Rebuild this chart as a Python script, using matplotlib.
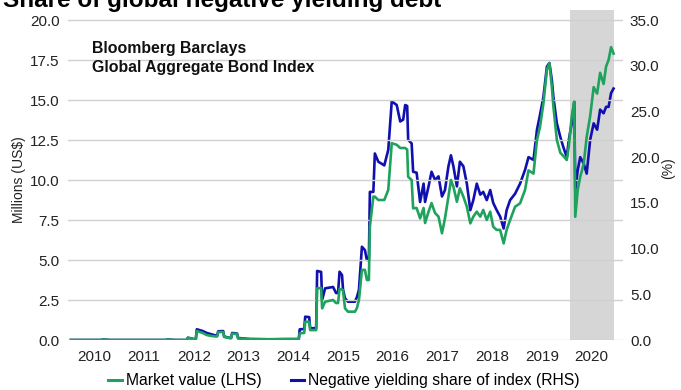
import matplotlib.pyplot as plt
from matplotlib.lines import Line2D

plt.rcParams['font.family'] = ['Liberation Sans', 'DejaVu Sans']

# decimal years of each reading
years = [
    2010.03, 2010.64, 2010.67, 2010.81, 2011.94, 2011.96, 2012.12, 2012.36, 2012.38, 2012.50,
    2012.54, 2012.56, 2012.68, 2012.76, 2012.86, 2012.94, 2012.97, 2012.99, 2013.07, 2013.09,
    2013.11, 2013.23, 2013.25, 2013.27, 2013.35, 2013.37, 2013.39, 2013.63, 2014.03, 2014.33,
    2014.61, 2014.63, 2014.70, 2014.72, 2014.74, 2014.82, 2014.84, 2014.96, 2014.98, 2015.06,
    2015.08, 2015.14, 2015.30, 2015.36, 2015.40, 2015.43, 2015.48, 2015.50, 2015.54, 2015.60,
    2015.74, 2015.78, 2015.82, 2015.88, 2015.94, 2015.98, 2016.02, 2016.04, 2016.11, 2016.14,
    2016.21, 2016.33, 2016.41, 2016.48, 2016.58, 2016.65, 2016.71, 2016.75, 2016.79, 2016.81,
    2016.88, 2016.91, 2016.98, 2017.05, 2017.12, 2017.15, 2017.22, 2017.28, 2017.35, 2017.42,
    2017.49, 2017.55, 2017.62, 2017.67, 2017.72, 2017.79, 2017.85, 2017.92, 2017.99, 2018.06,
    2018.12, 2018.19, 2018.26, 2018.32, 2018.39, 2018.46, 2018.52, 2018.59, 2018.66, 2018.73,
    2018.79, 2018.86, 2018.96, 2019.06, 2019.16, 2019.23, 2019.33, 2019.40, 2019.46, 2019.53,
    2019.60, 2019.65, 2019.70, 2019.73, 2019.80, 2019.87, 2019.93, 2020.00, 2020.04, 2020.10,
    2020.15, 2020.17, 2020.22, 2020.27, 2020.34, 2020.40, 2020.47, 2020.54, 2020.61, 2020.67,
    2020.74, 2020.79, 2020.84, 2020.89, 2020.94,
]

# market value of negative yielding debt, US$ trillions (left axis)
market_value = [
    0.0, 0.0, 0.03, 0.0, 0.0, 0.03, 0.0, 0.0, 0.14, 0.05,
    0.05, 0.56, 0.44, 0.31, 0.25, 0.22, 0.22, 0.5, 0.5, 0.5,
    0.19, 0.12, 0.12, 0.4, 0.37, 0.37, 0.09, 0.06, 0.04, 0.05,
    0.05, 0.42, 0.44, 0.44, 1.14, 1.14, 0.62, 0.62, 3.23, 3.25,
    1.98, 2.39, 2.5, 2.31, 2.31, 3.19, 3.16, 3.1, 1.98, 1.77,
    1.77, 2.0, 2.5, 4.38, 4.38, 3.75, 3.75, 7.08, 8.96, 8.96,
    8.75, 8.75, 9.38, 12.3, 12.2, 12.0, 12.0, 12.0, 11.9, 10.2,
    10.0, 8.23, 8.25, 7.6, 8.25, 7.31, 8.02, 8.56, 7.94, 7.71,
    6.67, 7.6, 8.96, 10.0, 9.58, 8.64, 9.48, 8.96, 8.33, 7.29,
    7.71, 8.02, 7.71, 8.13, 7.5, 8.02, 7.08, 6.88, 6.88, 6.04,
    6.88, 7.5, 8.33, 8.54, 9.38, 10.6, 10.4, 12.5, 13.3, 14.8,
    16.9, 17.3, 15.8, 14.6, 12.5, 11.7, 11.5, 11.25, 12.1, 14.0,
    14.9, 7.7, 9.38, 10.2, 11.0, 12.7, 14.0, 15.8, 15.4, 16.7,
    16.0, 17.1, 17.5, 18.3, 17.9,
]

# negative yielding share of the index, % (right axis)
neg_share = [
    0.0, 0.0, 0.05, 0.0, 0.0, 0.05, 0.0, 0.0, 0.25, 0.1,
    0.1, 1.17, 0.98, 0.77, 0.62, 0.49, 0.49, 0.95, 0.98, 0.98,
    0.38, 0.22, 0.22, 0.77, 0.71, 0.71, 0.22, 0.1, 0.08, 0.1,
    0.1, 1.17, 1.2, 1.2, 2.55, 2.5, 1.28, 1.3, 7.55, 7.45,
    4.37, 5.65, 5.8, 5.14, 5.14, 7.47, 7.1, 5.55, 4.56, 4.19,
    4.19, 4.7, 5.47, 10.2, 9.84, 8.75, 8.75, 16.2, 16.2, 20.4,
    19.5, 19.1, 20.8, 26.1, 25.7, 23.9, 24.1, 25.7, 25.6, 21.9,
    21.5, 18.4, 18.3, 15.1, 17.1, 15.1, 16.8, 18.4, 17.5, 17.9,
    15.7, 16.4, 19.0, 20.2, 19.0, 16.8, 19.5, 19.0, 17.1, 14.2,
    15.3, 17.1, 15.9, 16.2, 15.3, 16.4, 15.0, 14.2, 13.5, 12.2,
    14.2, 15.3, 16.0, 17.1, 18.6, 20.0, 19.7, 23.0, 24.6, 26.6,
    29.9, 30.3, 28.4, 26.6, 23.7, 22.2, 21.1, 20.0, 21.9, 23.7,
    26.1, 16.4, 18.6, 20.0, 19.3, 18.2, 21.9, 23.7, 23.0, 25.2,
    24.8, 25.5, 25.5, 27.0, 27.5,
]

year_labels = ['2010', '2011', '2012', '2013', '2014', '2015',
               '2016', '2017', '2018', '2019', '2020']
left_ticks = [0.0, 2.5, 5.0, 7.5, 10.0, 12.5, 15.0, 17.5, 20.0]
right_ticks = [0.0, 5.0, 10.0, 15.0, 20.0, 25.0, 30.0, 35.0]
shade_start, shade_end = 2020.07, 2020.95

green = '#1fa25e'
blue = '#1010b0'

fig = plt.figure(figsize=(6.81, 3.90), dpi=100)
ax = fig.add_axes([68 / 681, 50 / 390, 555 / 681, 330 / 390])
ax2 = ax.twinx()

# shaded period, kept behind both lines
ax2.axvspan(shade_start, shade_end, color='#d6d6d6', lw=0, zorder=0)

ax.plot(years, market_value, color=green, lw=1.9, zorder=3)
ax2.plot(years, neg_share, color=blue, lw=1.9, zorder=2)
ax.set_zorder(ax2.get_zorder() + 1)
ax.patch.set_visible(False)

ax.set_xlim(2009.97, 2021.13)
ax.set_ylim(0, 20 * 330 / 320)
ax2.set_ylim(0, 35 * 330 / 320)

ax.set_yticks(left_ticks)
ax.set_yticklabels([f'{t:.1f}' for t in left_ticks])
ax2.set_yticks(right_ticks)
ax2.set_yticklabels([f'{t:.1f}' for t in right_ticks])
ax.set_xticks([int(y) + 0.5 for y in year_labels])
ax.set_xticklabels(year_labels)

ax.grid(axis='y', color='#d0d0d0', lw=1.0)
ax.set_axisbelow(True)
for a in (ax, ax2):
    for s in a.spines.values():
        s.set_visible(False)
    a.tick_params(length=0, labelsize=11, colors='#222222')
ax.tick_params(axis='y', pad=6)
ax2.tick_params(axis='y', pad=5)
ax.tick_params(axis='x', pad=7)

ax.set_ylabel('Millions (US$)', fontsize=10, color='#222222')
ax.yaxis.set_label_coords(-0.075, 0.485)
ax2.set_ylabel('(%)', fontsize=10, color='#222222', rotation=90)
ax2.yaxis.set_label_coords(1.068, 0.52)

ax.text(0.044, 0.905, 'Bloomberg Barclays\nGlobal Aggregate Bond Index',
        transform=ax.transAxes, fontsize=11.4, fontweight='bold',
        va='top', ha='left', linespacing=1.3, color='#111111')

fig.text(0.005, 1 - 6.5 / 390, 'Share of global negative yielding debt',
         fontsize=17.5, fontweight='bold', va='baseline', ha='left')

handles = [Line2D([], [], color=green, lw=2.2), Line2D([], [], color=blue, lw=2.2)]
fig.legend(handles, ['Market value (LHS)', 'Negative yielding share of index (RHS)'],
           loc='center', bbox_to_anchor=(344 / 681, 1 - 381 / 390), ncol=2,
           frameon=False, fontsize=11.3, handlelength=0.85, handletextpad=0.25,
           columnspacing=1.9, borderpad=0.1)

fig.savefig('out.png', dpi=100)
